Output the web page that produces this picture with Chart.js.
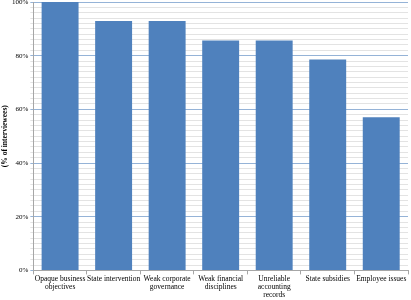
<!DOCTYPE html>
<html><head><meta charset="utf-8">
<script src="https://cdn.jsdelivr.net/npm/chart.js@4"></script>
<style>html,body{margin:0;padding:0;background:#fff}#w{width:411px;height:300px}</style>
</head><body><div id="w"><canvas id="c"></canvas></div>
<script>
const categories = [
  ["Opaque business","objectives"],
  "State intervention",
  ["Weak corporate","governance"],
  ["Weak financial","disciplines"],
  ["Unreliable","accounting","records"],
  "State subsidies",
  "Employee issues"
];
const values = [100, 92.9, 92.9, 85.7, 85.7, 78.6, 57.1];
const yTickLabels = ["0%","20%","40%","60%","80%","100%"];
const yTitle = "(% of interviewees)";

const serif = "'Liberation Serif','Times New Roman',serif";
new Chart(document.getElementById('c'), {
  type: 'bar',
  data: { labels: categories, datasets: [{ data: values, backgroundColor: '#4f81bd', categoryPercentage: 0.69, barPercentage: 1 }] },
  options: {
    responsive: true, maintainAspectRatio: false, animation: false,
    layout: { padding: { top: 2, right: 3, left: 1, bottom: 0 } },
    plugins: { legend: { display: false }, tooltip: { enabled: false } },
    scales: {
      x: {
        grid: { offset: true, drawOnChartArea: false, color: '#a6a6a6', tickLength: 4 },
        border: { color: '#a6a6a6' },
        ticks: { color: '#000', font: { family: serif, size: 7.5, lineHeight: 1.05 }, maxRotation: 0, autoSkip: false, padding: 1 }
      },
      y: {
        min: 0, max: 100,
        afterFit: s => { s.paddingTop = 0; },
        border: { color: '#a6a6a6' },
        grid: {
          color: ctx => (ctx.tick && ctx.tick.value % 20 === 0) ? '#95b3d7' : '#e3e3e3',
          tickLength: 3
        },
        ticks: {
          stepSize: 2, autoSkip: false, color: '#000', padding: 2,
          font: { family: serif, size: 7 },
          callback: v => (v % 20 === 0) ? yTickLabels[v / 20] : ''
        },
        title: { display: true, text: yTitle, color: '#000', font: { family: serif, size: 7.5, weight: 'bold' }, padding: 0 }
      }
    }
  }
});
</script>
</body></html>
